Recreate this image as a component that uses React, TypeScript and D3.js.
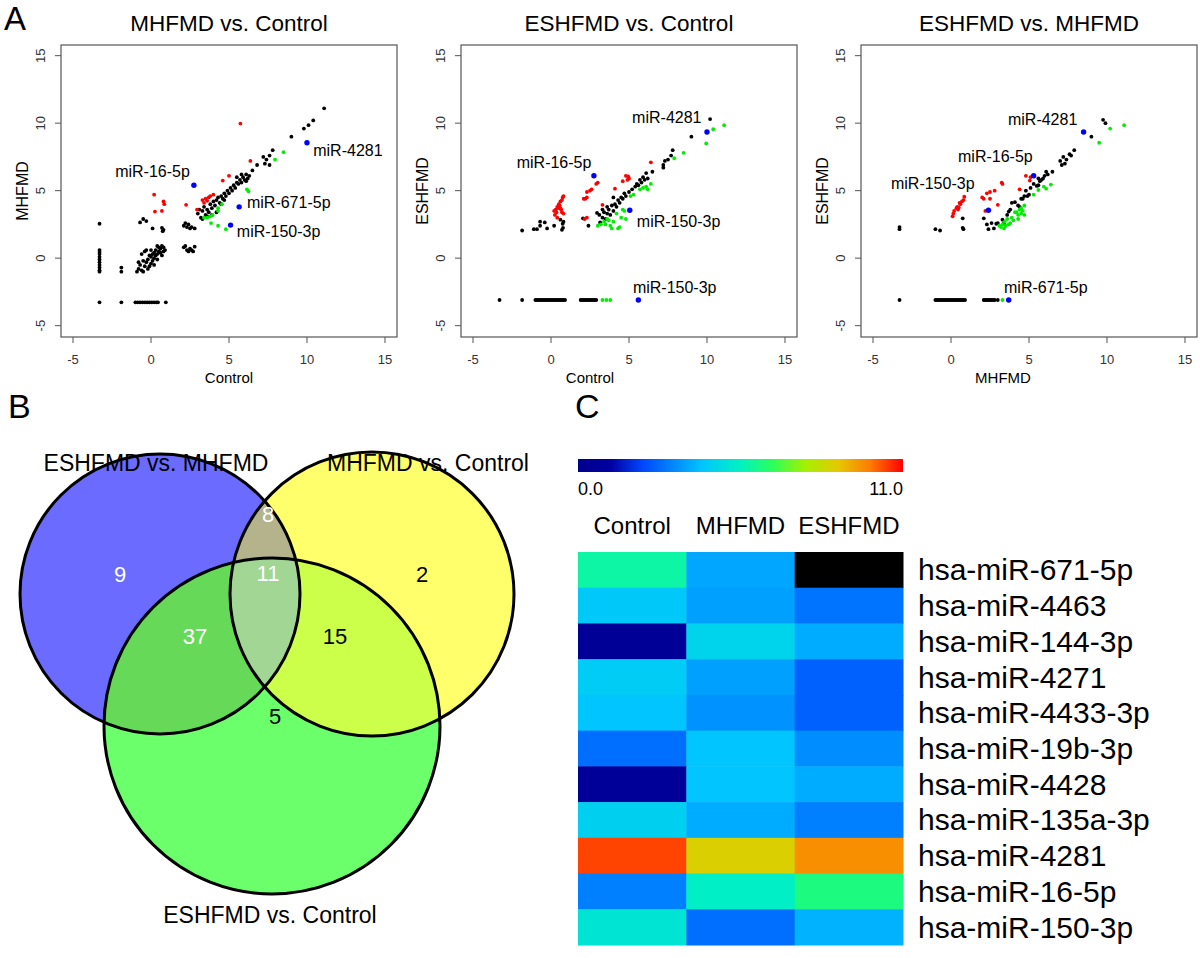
import * as d3 from 'd3';

type Pt = [number, number];

const FONT = '"Liberation Sans", Arial, sans-serif';
const AXIS_TICKS = [-5, 0, 5, 10, 15];

// ---------- panel A1: MHFMD vs. Control ----------
const p1Black: Pt[] = [
  [-3.3, 2.55], [-3.3, 0.6], [-3.3, 0.45], [-3.3, 0.3], [-3.3, 0.1], [-3.3, -0.1], [-3.3, -0.3], [-3.3, -0.5], [-3.3, -0.7], [-3.3, -0.9], [-3.3, -1.0], [-3.3, -3.27],
  [-1.9, -0.7], [-1.9, -1.0], [-1.9, -3.27],
  [-1.0, -3.27], [-0.85, -3.27], [-0.7, -3.27], [-0.55, -3.27], [-0.4, -3.27], [-0.25, -3.27], [-0.1, -3.27], [0.05, -3.27], [0.2, -3.27], [0.35, -3.27], [0.45, -3.27], [0.95, -3.27],
  [-0.9, -1.0], [-0.8, -0.8], [-0.7, -0.5], [-0.6, -0.9], [-0.5, -0.2], [-0.4, -0.6], [-0.4, 0.5], [-0.3, -0.3], [-0.2, -0.1], [-0.2, -0.8], [-0.1, 0.2], [0, -0.4], [0, 0.1], [0.1, 0.3], [0.1, -0.2],
  [0.2, 0.4], [0.2, 0.0], [0.3, 0.6], [0.3, 0.2], [0.4, 0.3], [0.4, -0.1], [0.5, 0.5], [0.5, 0.8], [0.6, 0.4], [0.6, 0.7], [0.7, 0.2], [0.7, 0.9], [0.8, 0.5], [0.8, 0.8], [0.9, 0.6],
  [-0.6, 0.3], [-0.3, 0.6], [0, 0.6], [-0.8, -0.3], [-0.5, -1.0], [0.2, -0.5], [-0.1, -0.6], [0.4, 0.9],
  [-0.7, 2.65], [-0.5, 2.9], [-0.3, 2.75], [0.1, 2.2], [0.7, 2.25], [0.8, 2.1], [0.75, 2.0],
  [2.1, 2.4], [2.3, 2.3], [2.4, 2.5], [2.5, 2.2], [2.6, 2.3], [2.8, 2.2], [2.2, 2.6],
  [2.1, 0.8], [2.3, 0.6], [2.4, 0.5], [2.5, 0.7], [2.6, 0.6], [2.8, 0.85], [2.2, 0.9], [2.7, 0.5],
  [3.0, 3.3], [3.1, 3.6], [3.2, 3.0], [3.3, 3.5], [3.4, 3.8], [3.5, 3.2], [3.6, 3.6], [3.7, 3.4], [3.8, 4.0], [3.9, 3.7], [4.0, 4.2], [4.1, 3.9], [4.2, 4.3], [4.3, 4.5], [4.4, 4.1],
  [4.5, 4.6], [4.6, 4.4], [4.7, 4.8], [4.8, 4.6], [4.9, 5.0], [5.0, 4.8], [5.1, 5.2], [5.2, 5.0], [5.3, 5.4], [5.4, 5.2], [5.5, 5.6], [5.6, 5.5], [5.7, 5.8], [5.8, 5.6], [5.9, 6.0],
  [6.0, 5.8], [6.1, 6.2], [6.2, 5.9], [6.3, 6.1], [5.5, 6.0], [5.8, 6.2], [6.1, 5.7], [6.5, 6.5], [6.8, 6.9], [3.3, 2.9], [3.6, 3.1], [3.9, 3.2], [4.2, 3.4], [4.5, 4.0], [4.7, 4.3],
  [7.2, 7.5], [7.4, 7.3], [7.6, 7.6], [7.8, 8.0], [7.3, 7.0], [7.6, 6.9], [9.0, 9.0], [9.8, 9.6], [10.1, 9.85], [10.4, 10.2], [11.1, 11.1],
];
const p1Red: Pt[] = [
  [0.2, 4.7], [0.8, 4.2], [0.85, 4.0], [0.25, 3.45], [0.7, 3.5], [2.25, 3.95], [2.95, 3.6], [3.3, 4.3], [3.5, 4.4], [3.7, 4.5], [4.0, 4.7],
  [4.6, 5.75], [5.0, 6.1], [5.73, 9.97], [6.37, 7.2], [3.4, 4.1], [3.6, 4.25], [3.8, 4.6],
];
const p1Green: Pt[] = [
  [3.4, 3.0], [3.6, 3.0], [3.8, 3.1], [3.95, 3.2], [3.85, 2.6], [4.3, 2.4], [4.8, 2.15], [4.3, 3.5], [4.3, 3.7], [4.55, 4.0], [6.15, 5.1], [6.25, 4.95], [7.95, 7.3], [8.5, 7.85],
];
const p1Blue: Pt[] = [[2.75, 5.4], [5.65, 3.8], [5.1, 2.45], [10.0, 8.55]];
const p1Labels = [
  { text: 'miR-16-5p', x: -2.3, y: 6.45 },
  { text: 'miR-4281', x: 10.4, y: 8.0 },
  { text: 'miR-671-5p', x: 6.15, y: 4.15 },
  { text: 'miR-150-3p', x: 5.5, y: 1.95 },
];

// ---------- panel A2: ESHFMD vs. Control ----------
const p2Black: Pt[] = [
  [-3.3, -3.1], [-1.85, -3.1],
  [-1.0, -3.1], [-0.9, -3.1], [-0.8, -3.1], [-0.7, -3.1], [-0.6, -3.1], [-0.5, -3.1], [-0.4, -3.1], [-0.3, -3.1], [-0.2, -3.1], [-0.1, -3.1],
  [0, -3.1], [0.1, -3.1], [0.2, -3.1], [0.3, -3.1], [0.4, -3.1], [0.5, -3.1], [0.6, -3.1], [0.7, -3.1], [0.8, -3.1], [0.9, -3.1],
  [1.9, -3.1], [2.0, -3.1], [2.1, -3.1], [2.2, -3.1], [2.3, -3.1], [2.4, -3.1], [2.5, -3.1], [2.6, -3.1], [2.7, -3.1], [2.8, -3.1], [2.9, -3.1],
  [-1.85, 2.05], [-1.1, 2.15], [-0.9, 2.15], [-0.7, 2.4], [-0.7, 2.7], [-0.4, 2.65], [-0.25, 2.2], [0.2, 2.4], [0.6, 2.85], [0.75, 2.55], [0.77, 2.25], [0.7, 2.1], [0.8, 2.7],
  [2.05, 2.95], [2.4, 2.4], [2.95, 3.35], [3.15, 2.65],
  [3.3, 3.0], [3.4, 3.4], [3.5, 2.9], [3.6, 3.3], [3.7, 3.6], [3.8, 3.2], [3.9, 3.9], [4.0, 3.5], [4.1, 4.0], [4.2, 3.8], [4.3, 4.3], [4.4, 4.1], [4.5, 4.5], [4.6, 4.4],
  [4.7, 4.8], [4.8, 4.6], [5.0, 4.9], [5.2, 5.1], [5.4, 5.3], [5.5, 5.5], [5.6, 5.4], [5.7, 5.8], [5.8, 5.6], [5.9, 6.0], [6.0, 5.8], [6.1, 6.3], [6.2, 5.9], [6.5, 6.4],
  [3.6, 3.8], [3.1, 3.2], [3.3, 3.6], [4.0, 4.5],
  [7.2, 6.9], [7.3, 7.2], [7.5, 7.3], [7.7, 7.6], [7.8, 8.0], [7.2, 6.7], [9.0, 9.0], [10.2, 10.3],
];
const p2Red: Pt[] = [
  [0.2, 3.5], [0.25, 3.2], [0.3, 3.6], [0.35, 3.4], [0.4, 3.8], [0.45, 3.7], [0.5, 4.0], [0.55, 3.9], [0.6, 4.2], [0.65, 3.6], [0.7, 4.3], [0.75, 4.5], [0.8, 4.6],
  [0.7, 3.4], [0.8, 3.3], [0.4, 3.0], [0.6, 3.7],
  [2.1, 4.4], [2.2, 4.4], [2.3, 4.9], [2.3, 3.0], [2.5, 5.0], [2.6, 5.1], [2.9, 5.5], [3.0, 5.6], [2.15, 2.9], [2.3, 4.5],
  [3.3, 3.95], [4.1, 5.15], [4.6, 5.7], [4.8, 6.1], [4.95, 6.05], [5.0, 5.9], [6.4, 7.1], [4.9, 5.8],
];
const p2Green: Pt[] = [
  [3.0, 2.4], [3.2, 2.5], [3.4, 2.7], [3.5, 2.5], [3.6, 2.9], [3.7, 2.8], [3.8, 2.4], [3.9, 2.2], [4.0, 2.7], [4.2, 3.3], [4.3, 2.2], [4.4, 2.3], [4.5, 3.0], [4.6, 3.6],
  [4.7, 3.5], [4.8, 2.9], [5.1, 4.6], [5.7, 5.1], [5.9, 5.2], [6.1, 5.3], [6.2, 5.1], [6.4, 5.5], [7.9, 7.4], [8.5, 7.8], [9.95, 8.5], [10.4, 9.55], [11.1, 9.85], [5.3, 4.7],
  [3.3, -3.1], [3.55, -3.1], [3.8, -3.1],
];
const p2Blue: Pt[] = [[2.75, 6.1], [5.05, 3.55], [5.6, -3.1], [10.0, 9.35]];
const p2Labels = [
  { text: 'miR-4281', x: 5.2, y: 10.45 },
  { text: 'miR-16-5p', x: -2.2, y: 7.1 },
  { text: 'miR-150-3p', x: 5.5, y: 2.7 },
  { text: 'miR-150-3p', x: 5.25, y: -2.15 },
];

// ---------- panel A3: ESHFMD vs. MHFMD ----------
const p3Black: Pt[] = [
  [-3.3, 2.3], [-3.3, 2.15], [-3.3, -3.1],
  [-1.0, -3.1], [-0.9, -3.1], [-0.8, -3.1], [-0.7, -3.1], [-0.6, -3.1], [-0.5, -3.1], [-0.4, -3.1], [-0.3, -3.1], [-0.2, -3.1], [-0.1, -3.1],
  [0, -3.1], [0.1, -3.1], [0.2, -3.1], [0.3, -3.1], [0.4, -3.1], [0.5, -3.1], [0.6, -3.1], [0.7, -3.1], [0.8, -3.1], [0.9, -3.1],
  [2.1, -3.1], [2.2, -3.1], [2.3, -3.1], [2.4, -3.1], [2.5, -3.1], [2.6, -3.1], [2.7, -3.1], [2.8, -3.1], [3.0, -3.1],
  [-1.0, 2.15], [-0.7, 2.05], [0.75, 2.95], [0.75, 2.25], [0.8, 2.15],
  [2.1, 2.95], [2.3, 2.5], [2.4, 2.15], [2.6, 2.6], [2.75, 2.2], [2.9, 2.55], [3.0, 2.6], [3.3, 2.85], [3.4, 2.6], [3.6, 3.2], [3.7, 3.45], [3.8, 3.6], [3.9, 4.1],
  [4.1, 4.15], [4.3, 3.9], [4.4, 3.8], [4.5, 4.4], [4.7, 4.6], [4.8, 5.0], [4.9, 4.6], [5.0, 4.7], [5.3, 5.5], [5.5, 5.35], [5.6, 5.4], [5.7, 5.7], [5.8, 5.8],
  [5.9, 5.9], [6.0, 6.1], [6.1, 6.4], [6.2, 6.2], [6.5, 6.4], [5.1, 5.2], [4.6, 4.4], [5.6, 5.9],
  [7.0, 7.2], [7.2, 7.5], [7.4, 7.3], [7.6, 7.7], [7.7, 7.6], [7.9, 8.0], [7.1, 6.9], [7.3, 7.0], [9.0, 9.0], [9.75, 10.25], [9.9, 10.0],
];
const p3Red: Pt[] = [
  [0.1, 3.1], [0.15, 3.3], [0.2, 3.5], [0.35, 3.7], [0.4, 3.8], [0.5, 3.75], [0.55, 4.1], [0.7, 4.2], [0.8, 4.3], [0.85, 4.55], [0.6, 4.0], [0.45, 3.6],
  [2.0, 4.5], [2.1, 4.4], [2.2, 3.5], [2.3, 4.8], [2.5, 4.9], [2.5, 4.4], [2.8, 5.0], [3.25, 5.6], [3.3, 5.5], [3.0, 3.95], [4.4, 5.1], [4.8, 6.1], [5.05, 5.75], [5.1, 6.0],
];
const p3Green: Pt[] = [
  [3.1, 2.4], [3.2, 2.3], [3.3, 2.5], [3.4, 2.2], [3.45, 2.7], [3.5, 2.4], [3.6, 2.9], [3.7, 2.5], [3.8, 2.6], [3.9, 3.0], [4.0, 2.8], [4.1, 3.4], [4.2, 3.4], [4.3, 3.2],
  [4.4, 3.6], [4.5, 3.7], [4.6, 3.5], [4.7, 3.9], [4.3, 2.9], [4.5, 3.3], [4.7, 3.2], [5.3, 4.7], [5.6, 5.05], [5.95, 5.3], [6.1, 5.15], [6.4, 5.45], [9.5, 8.55], [10.2, 9.6], [11.1, 9.85],
  [3.3, -3.1],
];
const p3Blue: Pt[] = [[8.5, 9.35], [5.3, 6.1], [2.4, 3.55], [3.7, -3.1]];
const p3Labels = [
  { text: 'miR-4281', x: 3.65, y: 10.25 },
  { text: 'miR-16-5p', x: 0.45, y: 7.5 },
  { text: 'miR-150-3p', x: -3.85, y: 5.5 },
  { text: 'miR-671-5p', x: 3.4, y: -2.15 },
];

const scatterPanels = [
  { title: 'MHFMD vs. Control', xLabel: 'Control', yLabel: 'MHFMD', black: p1Black, red: p1Red, green: p1Green, blue: p1Blue, labels: p1Labels, xLabelShift: 0 },
  { title: 'ESHFMD vs. Control', xLabel: 'Control', yLabel: 'ESHFMD', black: p2Black, red: p2Red, green: p2Green, blue: p2Blue, labels: p2Labels, xLabelShift: -39 },
  { title: 'ESHFMD vs. MHFMD', xLabel: 'MHFMD', yLabel: 'ESHFMD', black: p3Black, red: p3Red, green: p3Green, blue: p3Blue, labels: p3Labels, xLabelShift: -26 },
];

// ---------- panel B: Venn ----------
const vennSets = ['ESHFMD vs. MHFMD', 'MHFMD vs. Control', 'ESHFMD vs. Control'];
const vennCounts = [
  { region: 'A', value: 9 },
  { region: 'B', value: 2 },
  { region: 'C', value: 5 },
  { region: 'AB', value: 8 },
  { region: 'AC', value: 37 },
  { region: 'BC', value: 15 },
  { region: 'ABC', value: 11 },
];

// ---------- panel C: heatmap ----------
const heatCols = ['Control', 'MHFMD', 'ESHFMD'];
const heatRows = [
  'hsa-miR-671-5p', 'hsa-miR-4463', 'hsa-miR-144-3p', 'hsa-miR-4271', 'hsa-miR-4433-3p', 'hsa-miR-19b-3p',
  'hsa-miR-4428', 'hsa-miR-135a-3p', 'hsa-miR-4281', 'hsa-miR-16-5p', 'hsa-miR-150-3p',
];
const heatValues: (number | null)[][] = [
  [5.8, 3.7, null],
  [4.3, 3.6, 2.9],
  [0.5, 4.6, 3.8],
  [4.4, 3.6, 2.6],
  [4.2, 3.4, 2.6],
  [2.8, 4.2, 3.3],
  [0.6, 4.2, 3.8],
  [4.5, 3.8, 3.1],
  [10.4, 8.6, 9.6],
  [3.1, 5.4, 6.2],
  [5.1, 2.8, 3.9],
];
const HEAT_MIN = 0;
const HEAT_MAX = 11;

const jetStops = ['#00008f', '#0000a0', '#0048ff', '#00c4ff', '#00f2c2', '#2cff5a', '#a6f000', '#e6c800', '#ff7a00', '#ff0000'];
const jetPos = [0, 0.1, 0.2, 0.38, 0.5, 0.6, 0.7, 0.8, 0.9, 1];

function ScatterPanel({ p, i }: { p: (typeof scatterPanels)[number]; i: number }) {
  const ox = i * 400;
  const left = ox + 61, right = ox + 397, top = 45, bottom = 337;
  const x = d3.scaleLinear().domain([-5.77, 15.77]).range([left, right]);
  const y = d3.scaleLinear().domain([-5.84, 15.79]).range([bottom, top]);
  const dot = (pts: Pt[], color: string, r: number, key: string) =>
    pts.map((d, j) => <circle key={key + j} cx={x(d[0])} cy={y(d[1])} r={r} fill={color} />);
  return (
    <g fontFamily={FONT}>
      <text x={(left + right) / 2} y={23} textAnchor="middle" dominantBaseline="central" fontSize={22.5}>{p.title}</text>
      <rect x={left} y={top} width={right - left} height={bottom - top} fill="none" stroke="#555" strokeWidth={1.2} />
      {AXIS_TICKS.map((t) => (
        <g key={'x' + t}>
          <line x1={x(t)} x2={x(t)} y1={bottom} y2={bottom + 6} stroke="#555" />
          <text x={x(t)} y={359} textAnchor="middle" dominantBaseline="central" fontSize={13} fill="#333">{t}</text>
        </g>
      ))}
      {AXIS_TICKS.map((t) => (
        <g key={'y' + t}>
          <line x1={left - 6} x2={left} y1={y(t)} y2={y(t)} stroke="#555" />
          <text transform={`translate(${ox + 40},${y(t)}) rotate(-90)`} textAnchor="middle" dominantBaseline="central" fontSize={13} fill="#333">{t}</text>
        </g>
      ))}
      <text transform={`translate(${ox + 22},${(top + bottom) / 2}) rotate(-90)`} textAnchor="middle" dominantBaseline="central" fontSize={16}>{p.yLabel}</text>
      <text x={(left + right) / 2 + p.xLabelShift} y={377} textAnchor="middle" dominantBaseline="central" fontSize={15}>{p.xLabel}</text>
      {dot(p.black, '#000', 1.9, 'k')}
      {dot(p.red, '#ff0000', 1.9, 'r')}
      {dot(p.green, '#00ee00', 1.9, 'g')}
      {dot(p.blue, '#0000ff', 2.7, 'b')}
      {p.labels.map((l, j) => (
        <text key={'l' + j} x={x(l.x)} y={y(l.y)} dominantBaseline="central" fontSize={16}>{l.text}</text>
      ))}
    </g>
  );
}

function Venn() {
  const circles = [
    { id: 'vA', cx: 160, cy: 594, r: 140, fill: '#6b6bff' },
    { id: 'vB', cx: 372, cy: 594, r: 142, fill: '#ffff6b' },
    { id: 'vC', cx: 272, cy: 726, r: 168, fill: '#6bff6b' },
  ];
  const [, B, C] = circles;
  const pos: Record<string, [number, number, string]> = {
    A: [120, 574, '#fff'], B: [422, 574, '#000'], C: [275, 716, '#000'],
    AB: [268, 514, '#fff'], AC: [195, 636, '#fff'], BC: [335, 636, '#000'], ABC: [268, 573, '#fff'],
  };
  return (
    <g fontFamily={FONT}>
      <defs>
        {circles.map((c) => (
          <clipPath key={c.id} id={'clip-' + c.id}><circle cx={c.cx} cy={c.cy} r={c.r} /></clipPath>
        ))}
      </defs>
      {circles.map((c) => <circle key={c.id} cx={c.cx} cy={c.cy} r={c.r} fill={c.fill} />)}
      <g clipPath="url(#clip-vA)"><circle cx={B.cx} cy={B.cy} r={B.r} fill="#b4b38c" /></g>
      <g clipPath="url(#clip-vA)"><circle cx={C.cx} cy={C.cy} r={C.r} fill="#66da58" /></g>
      <g clipPath="url(#clip-vB)"><circle cx={C.cx} cy={C.cy} r={C.r} fill="#ccff4a" /></g>
      <g clipPath="url(#clip-vA)"><g clipPath="url(#clip-vB)"><circle cx={C.cx} cy={C.cy} r={C.r} fill="#a2d694" /></g></g>
      {circles.map((c) => <circle key={'o' + c.id} cx={c.cx} cy={c.cy} r={c.r} fill="none" stroke="#000" strokeWidth={3} />)}
      {vennCounts.map((v) => (
        <text key={v.region} x={pos[v.region][0]} y={pos[v.region][1]} textAnchor="middle" dominantBaseline="central" fontSize={22} fill={pos[v.region][2]}>{v.value}</text>
      ))}
      <text x={156} y={463} textAnchor="middle" dominantBaseline="central" fontSize={23}>{vennSets[0]}</text>
      <text x={428} y={463} textAnchor="middle" dominantBaseline="central" fontSize={23}>{vennSets[1]}</text>
      <text x={270} y={915} textAnchor="middle" dominantBaseline="central" fontSize={23}>{vennSets[2]}</text>
    </g>
  );
}

function Heatmap() {
  const color = d3.scaleLinear<string>()
    .domain(jetPos.map((p) => HEAT_MIN + p * (HEAT_MAX - HEAT_MIN)))
    .range(jetStops)
    .interpolate(d3.interpolateRgb)
    .clamp(true);
  const x = d3.scaleBand().domain(heatCols).range([578, 903]);
  const y = d3.scaleBand().domain(heatRows).range([552, 945]);
  return (
    <g fontFamily={FONT}>
      <defs>
        <linearGradient id="jet" x1="0" x2="1" y1="0" y2="0">
          {jetStops.map((c, k) => <stop key={k} offset={jetPos[k]} stopColor={c} />)}
        </linearGradient>
      </defs>
      <rect x={578} y={459} width={325} height={13} fill="url(#jet)" />
      <text x={578} y={489} dominantBaseline="central" fontSize={18}>{HEAT_MIN.toFixed(1)}</text>
      <text x={903} y={489} textAnchor="end" dominantBaseline="central" fontSize={18}>{HEAT_MAX.toFixed(1)}</text>
      {heatCols.map((c) => (
        <text key={c} x={x(c)! + x.bandwidth() / 2} y={525} textAnchor="middle" dominantBaseline="central" fontSize={24}>{c}</text>
      ))}
      {heatRows.map((r, ri) =>
        heatCols.map((c, ci) => {
          const v = heatValues[ri][ci];
          return <rect key={r + c} x={x(c)} y={y(r)} width={x.bandwidth() + 0.5} height={y.bandwidth() + 0.5} fill={v == null ? '#000' : color(v)} />;
        })
      )}
      {heatRows.map((r) => (
        <text key={'t' + r} x={918} y={y(r)! + y.bandwidth() / 2} dominantBaseline="central" fontSize={30}>{r}</text>
      ))}
    </g>
  );
}

export default function App() {
  return (
    <div style={{ position: 'absolute', left: 0, top: 0 }}>
      <svg width={1200} height={958} viewBox="0 0 1200 958" style={{ display: 'block', background: '#fff' }}>
        <text x={4} y={30} fontSize={33} fontFamily={FONT}>A</text>
        <text x={8} y={418} fontSize={34} fontFamily={FONT}>B</text>
        <text x={575} y={418} fontSize={34} fontFamily={FONT}>C</text>
        {scatterPanels.map((p, i) => <ScatterPanel key={i} p={p} i={i} />)}
        <Venn />
        <Heatmap />
      </svg>
    </div>
  );
}
